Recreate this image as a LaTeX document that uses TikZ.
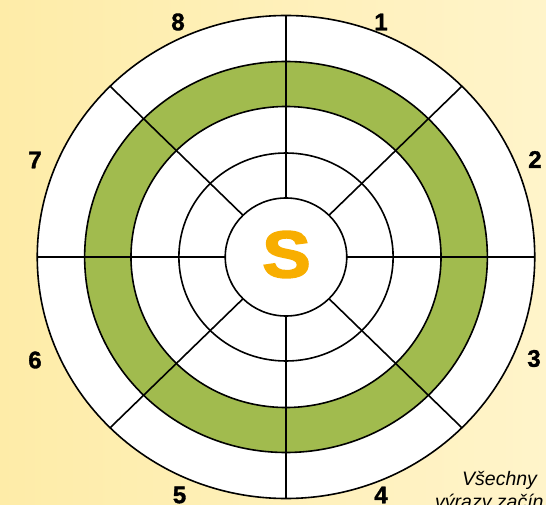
\documentclass[tikz,border=0pt]{standalone}
\usepackage{fontspec}
\setmainfont{Liberation Sans}
\newfontfamily\heavyfont[FakeBold=2.5]{Liberation Sans Bold}
\newfontfamily\digitfont[FakeBold=1.5]{Liberation Sans Bold}
\definecolor{bgA}{RGB}{254,236,168}
\definecolor{bgB}{RGB}{255,244,202}
\definecolor{ringgreen}{RGB}{161,187,78}
\definecolor{sorange}{RGB}{248,174,0}
\begin{document}
\begin{tikzpicture}[x=1pt,y=-1pt,
  ring/.style={draw=black,line width=1.6pt},
  num/.style={font=\digitfont\fontsize{24}{24}\selectfont, text=black, inner sep=0pt},
  note/.style={font=\itshape\fontsize{19.5}{19.5}\selectfont, text=black, inner sep=0pt, anchor=base west}]
\useasboundingbox (0,0) rectangle (546,505);
\clip (0,0) rectangle (546,505);
\shade[left color=bgA, right color=bgB] (0,0) rectangle (546,505);
\begin{scope}[shift={(286,257)}, xscale=1.03]
  \fill[white] (0,0) circle[radius=241.5];
  \fill[ringgreen, even odd rule] (0,0) circle[radius=195.5] (0,0) circle[radius=150.5];
  \foreach \r in {241.5,195.5,150.5,104,59} \draw[ring] (0,0) circle[radius=\r];
  \foreach \a in {0,45,...,315} \draw[ring] (\a:59) -- (\a:241.5);
\end{scope}
\node[font=\heavyfont\fontsize{66}{66}\selectfont, text=sorange, inner sep=0pt] (s) at (286.5,254.5) {\scalebox{1.1}[1]{S}};
\node[num] (n8) at (178,22) {8};
\node[num] (n1) at (381,22) {1};
\node[num] (n2) at (535,159.5) {2};
\node[num] (n3) at (534,358.5) {3};
\node[num] (n4) at (381,495) {4};
\node[num] (n5) at (179.5,495) {5};
\node[num] (n6) at (35,360) {6};
\node[num] (n7) at (35,160) {7};
\node[note] (t1) at (462,485) {Všechny};
\node[note] (t2) at (435,508) {výrazy začín};
\end{tikzpicture}
\end{document}
